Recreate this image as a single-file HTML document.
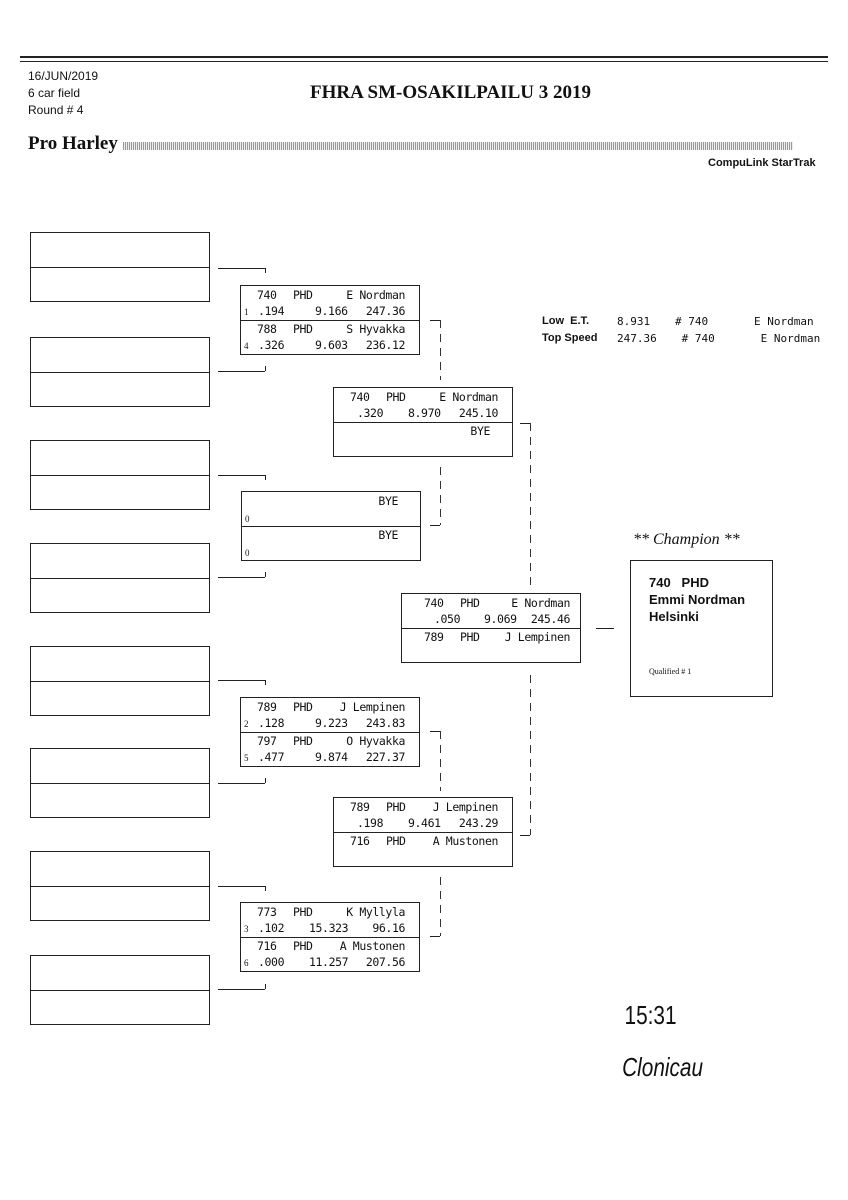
<!DOCTYPE html>
<html><head><meta charset="utf-8"><style>
body{margin:0;width:848px;height:1200px;position:relative;background:#fff;font-family:"Liberation Sans",sans-serif;color:#111;overflow:hidden}
.a{position:absolute}
.hl{position:absolute;height:0;border-top:1px solid #222}
.vl{position:absolute;width:0;border-left:1px solid #222}
.dl{position:absolute;width:1px;background:repeating-linear-gradient(180deg,#333 0 8px,transparent 8px 14px)}
.lb{position:absolute;left:30px;width:180px;height:70px;border:1px solid #222;box-sizing:border-box}
.lb div{height:34px;border-bottom:1px solid #222}
.bx{position:absolute;width:180px;height:70px;border:1px solid #222;box-sizing:border-box;font-family:"DejaVu Sans Mono","Liberation Mono",monospace;font-size:11.5px;letter-spacing:-0.4px}
.bx .h{position:absolute;left:0;right:0;top:34px;border-top:1px solid #222}
.bx span{position:absolute;white-space:nowrap}
.sd{font-family:"Liberation Serif",serif;font-size:9px}
.st{font-family:"DejaVu Sans Mono",monospace;font-size:11px}
</style></head><body>
<div class="hl" style="left:20px;width:808px;top:56px;border-top:2px solid #222"></div>
<div class="hl" style="left:20px;width:808px;top:61px"></div>
<div class="a" style="left:28px;top:68px;font-size:12px;line-height:17px;font-family:'Liberation Sans Narrow','Liberation Sans',sans-serif">16/JUN/2019<br>6 car field<br>Round # 4</div>
<div class="a" style="left:310px;top:82px;font-family:'Liberation Serif',serif;font-weight:bold;font-size:19px">FHRA SM-OSAKILPAILU 3 2019</div>
<div class="a" style="left:28px;top:133px;font-family:'Liberation Serif',serif;font-weight:bold;font-size:19px">Pro Harley</div>
<div class="a" style="left:123px;top:142px;width:670px;height:8px;background:repeating-linear-gradient(90deg,#999 0 1px,#eee 1px 2px)"></div>
<div class="a" style="left:708px;top:157px;font-size:11px;font-weight:bold">CompuLink StarTrak</div>

<div class="lb" style="top:232px"><div></div></div>
<div class="lb" style="top:337px"><div></div></div>
<div class="lb" style="top:440px"><div></div></div>
<div class="lb" style="top:543px"><div></div></div>
<div class="lb" style="top:646px"><div></div></div>
<div class="lb" style="top:748px"><div></div></div>
<div class="lb" style="top:851px"><div></div></div>
<div class="lb" style="top:955px"><div></div></div>

<div class="hl" style="left:218px;width:47px;top:268px"></div><div class="vl" style="left:265px;top:268px;height:5px"></div>
<div class="hl" style="left:218px;width:47px;top:371px"></div><div class="vl" style="left:265px;top:366px;height:5px"></div>
<div class="hl" style="left:218px;width:47px;top:475px"></div><div class="vl" style="left:265px;top:475px;height:5px"></div>
<div class="hl" style="left:218px;width:47px;top:577px"></div><div class="vl" style="left:265px;top:572px;height:5px"></div>
<div class="hl" style="left:218px;width:47px;top:680px"></div><div class="vl" style="left:265px;top:680px;height:5px"></div>
<div class="hl" style="left:218px;width:47px;top:783px"></div><div class="vl" style="left:265px;top:778px;height:5px"></div>
<div class="hl" style="left:218px;width:47px;top:886px"></div><div class="vl" style="left:265px;top:886px;height:5px"></div>
<div class="hl" style="left:218px;width:47px;top:989px"></div><div class="vl" style="left:265px;top:984px;height:5px"></div>

<div class="bx" style="left:240px;top:285px">
<span style="left:16px;top:2px">740</span><span style="left:52px;top:2px">PHD</span><span style="right:14px;top:2px">E Nordman</span>
<span class="sd" style="left:3px;top:21px">1</span><span style="left:17px;top:18px">.194</span><span style="left:74px;top:18px">9.166</span><span style="right:14px;top:18px">247.36</span>
<div class="h"></div>
<span style="left:16px;top:36px">788</span><span style="left:52px;top:36px">PHD</span><span style="right:14px;top:36px">S Hyvakka</span>
<span class="sd" style="left:3px;top:55px">4</span><span style="left:17px;top:52px">.326</span><span style="left:74px;top:52px">9.603</span><span style="right:14px;top:52px">236.12</span>
</div>
<div class="bx" style="left:241px;top:491px">
<span style="right:22px;top:2px">BYE</span><span class="sd" style="left:3px;top:22px">0</span>
<div class="h"></div>
<span style="right:22px;top:36px">BYE</span><span class="sd" style="left:3px;top:56px">0</span>
</div>
<div class="bx" style="left:240px;top:697px">
<span style="left:16px;top:2px">789</span><span style="left:52px;top:2px">PHD</span><span style="right:14px;top:2px">J Lempinen</span>
<span class="sd" style="left:3px;top:21px">2</span><span style="left:17px;top:18px">.128</span><span style="left:74px;top:18px">9.223</span><span style="right:14px;top:18px">243.83</span>
<div class="h"></div>
<span style="left:16px;top:36px">797</span><span style="left:52px;top:36px">PHD</span><span style="right:14px;top:36px">O Hyvakka</span>
<span class="sd" style="left:3px;top:55px">5</span><span style="left:17px;top:52px">.477</span><span style="left:74px;top:52px">9.874</span><span style="right:14px;top:52px">227.37</span>
</div>
<div class="bx" style="left:240px;top:902px">
<span style="left:16px;top:2px">773</span><span style="left:52px;top:2px">PHD</span><span style="right:14px;top:2px">K Myllyla</span>
<span class="sd" style="left:3px;top:21px">3</span><span style="left:17px;top:18px">.102</span><span style="left:68px;top:18px">15.323</span><span style="right:14px;top:18px">96.16</span>
<div class="h"></div>
<span style="left:16px;top:36px">716</span><span style="left:52px;top:36px">PHD</span><span style="right:14px;top:36px">A Mustonen</span>
<span class="sd" style="left:3px;top:55px">6</span><span style="left:17px;top:52px">.000</span><span style="left:68px;top:52px">11.257</span><span style="right:14px;top:52px">207.56</span>
</div>

<div class="bx" style="left:333px;top:387px">
<span style="left:16px;top:2px">740</span><span style="left:52px;top:2px">PHD</span><span style="right:14px;top:2px">E Nordman</span>
<span style="left:23px;top:18px">.320</span><span style="left:74px;top:18px">8.970</span><span style="right:14px;top:18px">245.10</span>
<div class="h"></div>
<span style="right:22px;top:36px">BYE</span>
</div>
<div class="bx" style="left:333px;top:797px">
<span style="left:16px;top:2px">789</span><span style="left:52px;top:2px">PHD</span><span style="right:14px;top:2px">J Lempinen</span>
<span style="left:23px;top:18px">.198</span><span style="left:74px;top:18px">9.461</span><span style="right:14px;top:18px">243.29</span>
<div class="h"></div>
<span style="left:16px;top:36px">716</span><span style="left:52px;top:36px">PHD</span><span style="right:14px;top:36px">A Mustonen</span>
</div>
<div class="bx" style="left:401px;top:593px">
<span style="left:22px;top:2px">740</span><span style="left:58px;top:2px">PHD</span><span style="right:10px;top:2px">E Nordman</span>
<span style="left:32px;top:18px">.050</span><span style="left:82px;top:18px">9.069</span><span style="right:10px;top:18px">245.46</span>
<div class="h"></div>
<span style="left:22px;top:36px">789</span><span style="left:58px;top:36px">PHD</span><span style="right:10px;top:36px">J Lempinen</span>
</div>

<div class="hl" style="left:430px;width:10px;top:320px"></div><div class="dl" style="left:440px;top:320px;height:60px"></div>
<div class="dl" style="left:440px;top:467px;height:58px"></div><div class="hl" style="left:430px;width:10px;top:525px"></div>
<div class="hl" style="left:520px;width:10px;top:423px"></div><div class="dl" style="left:530px;top:423px;height:162px"></div>
<div class="hl" style="left:430px;width:10px;top:731px"></div><div class="dl" style="left:440px;top:731px;height:60px"></div>
<div class="dl" style="left:440px;top:877px;height:59px"></div><div class="hl" style="left:430px;width:10px;top:936px"></div>
<div class="dl" style="left:530px;top:675px;height:160px"></div><div class="hl" style="left:520px;width:10px;top:835px"></div>
<div class="hl" style="left:596px;width:18px;top:628px"></div>

<div class="a" style="left:542px;top:313px;font-size:11px;font-weight:bold;line-height:17px">Low&nbsp;&nbsp;E.T.<br>Top Speed</div>
<div class="a st" style="left:617px;top:313px;line-height:17px">8.931<br>247.36</div>
<div class="a st" style="left:675px;top:313px;line-height:17px">#&nbsp;740<br>&nbsp;#&nbsp;740</div>
<div class="a st" style="left:754px;top:313px;line-height:17px">E Nordman<br>&nbsp;E Nordman</div>

<div class="a" style="left:633px;top:531px;font-family:'Liberation Serif',serif;font-style:italic;font-size:16px">** Champion **</div>
<div class="a" style="left:630px;top:560px;width:143px;height:137px;border:1px solid #222;box-sizing:border-box">
<div class="a" style="left:18px;top:13px;font-weight:bold;font-size:13px;line-height:17px">740&nbsp;&nbsp;&nbsp;PHD<br>Emmi Nordman<br>Helsinki</div>
<div class="a" style="left:18px;top:106px;font-family:'Liberation Serif',serif;font-size:8px">Qualified # 1</div>
</div>

<div class="a" style="left:618px;top:1000px;font-size:26px;font-family:'Liberation Sans Narrow',sans-serif;font-weight:300;transform:scaleX(0.8)">15:31</div>
<div class="a" style="left:612px;top:1052px;font-size:26px;font-style:italic;font-family:'Liberation Sans Narrow',sans-serif;transform:scaleX(0.8)">Clonicau</div>
</body></html>
